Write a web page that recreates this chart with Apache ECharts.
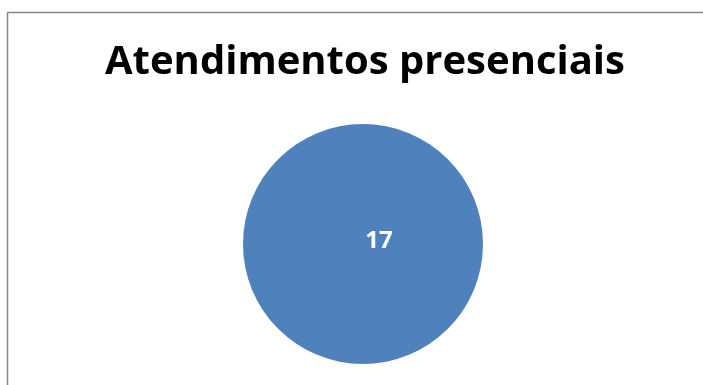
<!DOCTYPE html>
<html>
<head>
<meta charset="utf-8">
<script src="https://cdn.jsdelivr.net/npm/echarts@6/dist/echarts.min.js"></script>
<style>
  html, body { margin: 0; padding: 0; background: #fff; }
  #box1 { width: 703px; height: 385px; }
</style>
</head>
<body>
<div id="box1"></div>
<script>
var myChart1 = echarts.init(document.getElementById('box1')) //容器

// dados
var chartTitle = 'Atendimentos presenciais';
var categories = ['Atendimentos presenciais'];
var values = [17];

var seriesData = categories.map(function (c, i) {
    return {name: c, value: values[i]};
});

var option1 = {
    animation: false,
    backgroundColor: '#fff',
    title: {
        text: chartTitle,
        left: 100,
        top: 38,
        textStyle: {
            fontFamily: 'Open Sans',
            fontWeight: 'bold',
            fontSize: 40,
            color: '#000'
        }
    },
    graphic: [{
        type: 'rect',
        shape: {x: 7.5, y: 12.5, width: 2000, height: 2000},
        style: {fill: 'none', stroke: '#888', lineWidth: 1.5},
        silent: true
    }],
    series: [{
        type: 'pie',
        center: [363, 244],
        radius: 120,
        startAngle: 90,
        label: {
            show: true,
            position: 'center',
            offset: [16, -3],
            formatter: '{c}',
            color: '#fff',
            fontFamily: 'Open Sans',
            fontWeight: 'bold',
            fontSize: 24
        },
        labelLine: {show: false},
        emphasis: {disabled: true},
        itemStyle: {
            color: '#4F81BD',
            borderWidth: 0
        },
        data: seriesData
    }]
};

myChart1.setOption(option1)
</script>
</body>
</html>
